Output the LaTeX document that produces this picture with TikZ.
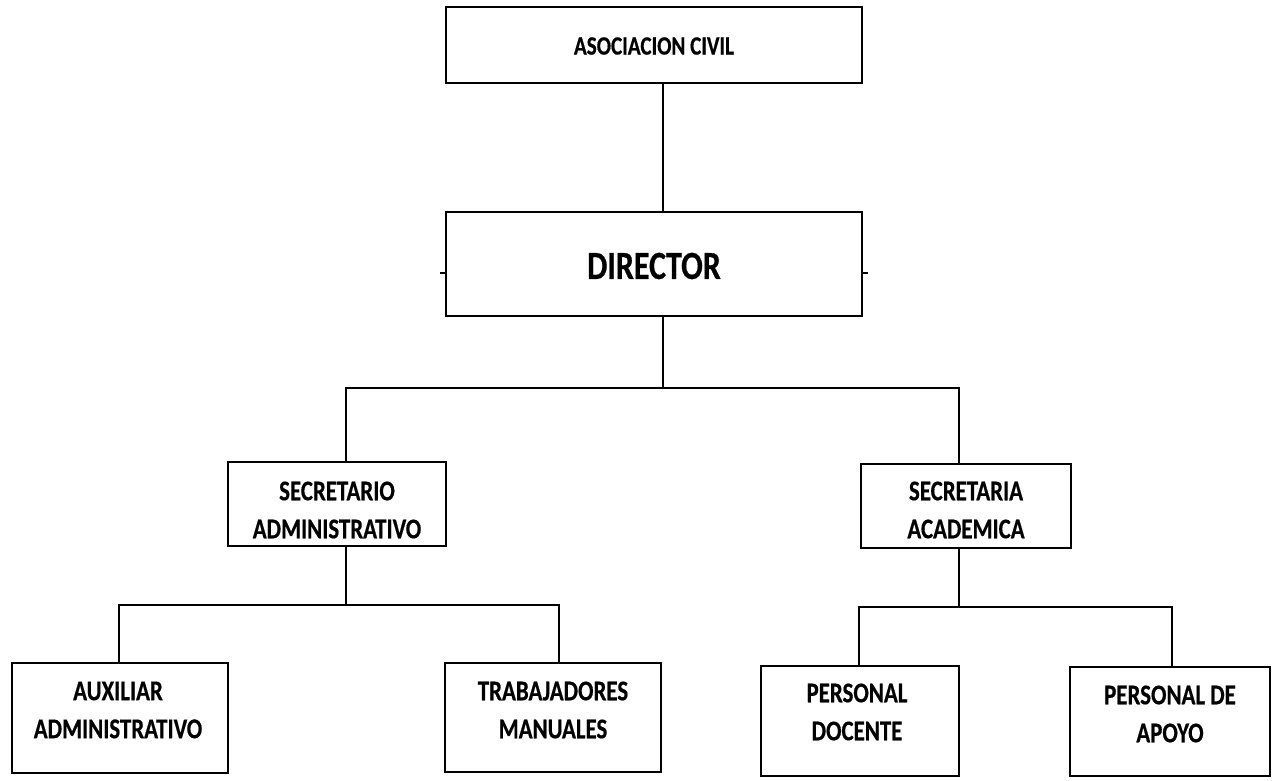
\documentclass[tikz,border=0pt]{standalone}
\usepackage{fontspec}
\setmainfont{Carlito}[FakeStretch=0.8, BoldFeatures={FakeBold=0.5}]
\begin{document}
\begin{tikzpicture}[x=0.5pt,y=-0.5pt,
  box/.style={draw=black,line width=0.9pt,rectangle,inner sep=0pt},
  txt/.style={align=center,font=\bfseries\fontsize{14.3}{19}\selectfont,inner sep=0pt},
  conn/.style={draw=black,line width=0.65pt}]
\useasboundingbox (0,0) rectangle (1275,781);
% boxes
\node[box,minimum width=208pt,minimum height=38pt] (asoc) at (654,45) {};
\node[box,minimum width=208pt,minimum height=52pt] (dir) at (654,264) {};
\node[box,minimum width=109pt,minimum height=42pt] (sadm) at (337,504) {};
\node[box,minimum width=105pt,minimum height=42pt] (sacad) at (966,506) {};
\node[box,minimum width=108pt,minimum height=55pt] (aux) at (120,718) {};
\node[box,minimum width=108pt,minimum height=54.5pt] (trab) at (553,717.5) {};
\node[box,minimum width=99pt,minimum height=55pt] (doc) at (860,721) {};
\node[box,minimum width=100pt,minimum height=54.5pt] (apo) at (1170,721.5) {};
% texts
\node[txt,font=\bfseries\fontsize{13.2}{16}\selectfont] (tasoc) at (654,46) {ASOCIACION CIVIL};
\node[txt,font=\bfseries\fontsize{20}{24}\selectfont] (tdir) at (654,266) {DIRECTOR};
\node[txt] (tsadm) at (337,510) {SECRETARIO\\ADMINISTRATIVO};
\node[txt] (tsacad) at (966,510) {SECRETARIA\\ACADEMICA};
\node[txt] (taux) at (118,710) {AUXILIAR\\ADMINISTRATIVO};
\node[txt] (ttrab) at (553,710) {TRABAJADORES\\MANUALES};
\node[txt] (tdoc) at (857,712) {PERSONAL\\DOCENTE};
\node[txt] (tapo) at (1170,714) {PERSONAL DE\\APOYO};
% junction coordinates
\coordinate (ja) at (663,150);
\coordinate (jm) at (663,388);
\coordinate (jl) at (346,388);
\coordinate (jr) at (959,388);
\coordinate (kl) at (119,605);
\coordinate (km) at (346,605);
\coordinate (kr) at (559,605);
\coordinate (ml) at (859,607);
\coordinate (mm) at (959,607);
\coordinate (mr) at (1172,607);
% connectors
\draw[conn] (asoc.south -| ja) -- (dir.north -| ja);
\draw[conn] (dir.south -| jm) -- (jm);
\draw[conn] (jl |- sadm.north) -- (jl) -- (jr) -- (jr |- sacad.north);
\draw[conn] (sadm.south -| km) -- (km);
\draw[conn] (kl |- aux.north) -- (kl) -- (kr) -- (kr |- trab.north);
\draw[conn] (sacad.south -| mm) -- (mm);
\draw[conn] (ml |- doc.north) -- (ml) -- (mr) -- (mr |- apo.north);
% small side ticks on director box
\draw[conn] ([yshift=-4.5pt]dir.west) -- ++(-5,0);
\draw[conn] ([yshift=-4.5pt]dir.east) -- ++(5,0);
\end{tikzpicture}
\end{document}
